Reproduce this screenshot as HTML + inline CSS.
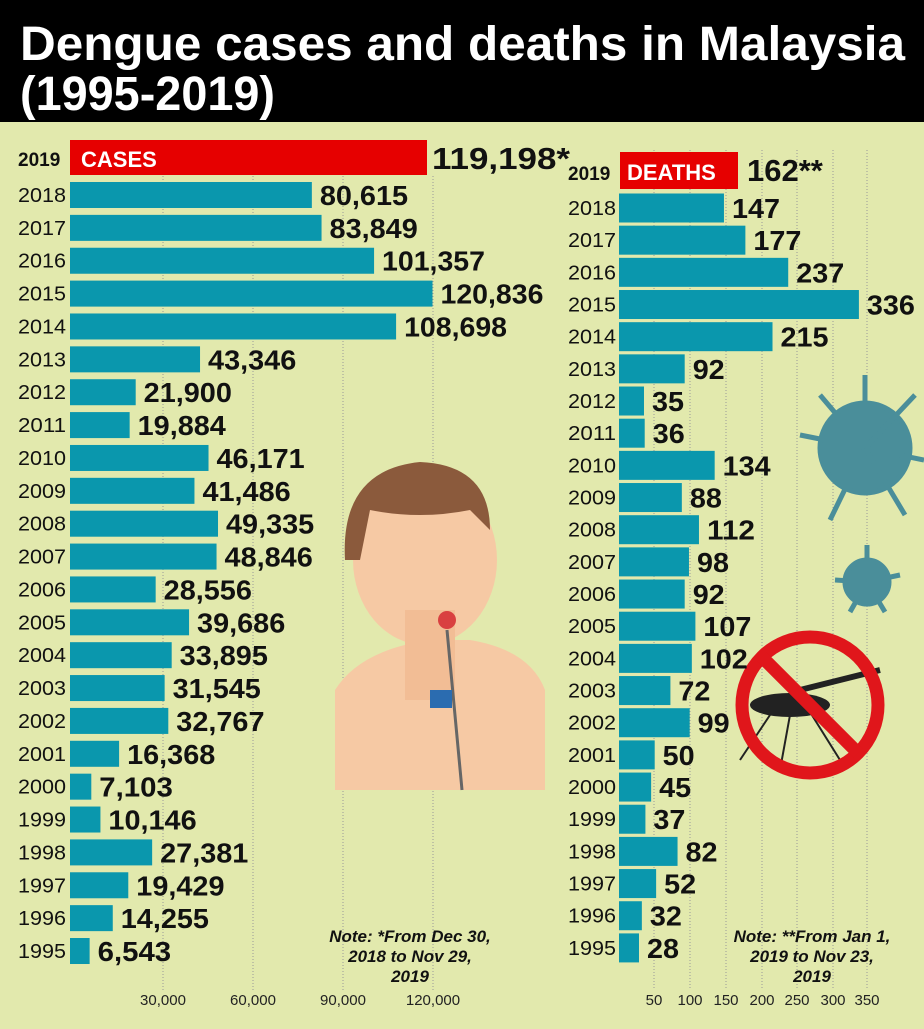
<!DOCTYPE html><html><head><style>body{margin:0;width:924px;height:1024px;overflow:hidden;background:#e2e9ad}</style></head><body>
<svg width="924" height="1024" xmlns="http://www.w3.org/2000/svg" font-family="Liberation Sans, sans-serif">
<rect width="924" height="1024" fill="#e2e9ad"/>
<rect width="924" height="122" fill="#000"/>
<text x="20" y="60" fill="#fff" font-size="48" font-weight="bold" textLength="885" lengthAdjust="spacingAndGlyphs">Dengue cases and deaths in Malaysia</text>
<text x="20" y="110" fill="#fff" font-size="48" font-weight="bold" textLength="255" lengthAdjust="spacingAndGlyphs">(1995-2019)</text>
<g stroke="#999" stroke-dasharray="1,2" stroke-width="1">
<line x1="163" y1="176" x2="163" y2="990"/><line x1="253" y1="176" x2="253" y2="990"/><line x1="343" y1="176" x2="343" y2="990"/><line x1="433" y1="176" x2="433" y2="990"/>
<line x1="654" y1="150" x2="654" y2="990"/><line x1="690" y1="150" x2="690" y2="990"/><line x1="726" y1="150" x2="726" y2="990"/><line x1="762" y1="150" x2="762" y2="990"/><line x1="797" y1="150" x2="797" y2="990"/><line x1="833" y1="150" x2="833" y2="990"/><line x1="867" y1="150" x2="867" y2="990"/>
</g>
<g font-size="15" fill="#222" text-anchor="middle">
<text x="163" y="1005">30,000</text><text x="253" y="1005">60,000</text><text x="343" y="1005">90,000</text><text x="433" y="1005">120,000</text>
<text x="654" y="1005">50</text><text x="690" y="1005">100</text><text x="726" y="1005">150</text><text x="762" y="1005">200</text><text x="797" y="1005">250</text><text x="833" y="1005">300</text><text x="867" y="1005">350</text>
</g>
<g>
<path d="M335 690 Q360 650 430 640 L470 640 Q530 650 545 690 L545 790 L335 790 Z" fill="#f6c9a4"/>
<ellipse cx="425" cy="560" rx="72" ry="85" fill="#f6c9a4"/>
<path d="M345 560 Q340 470 420 462 Q490 465 490 530 L470 510 Q420 520 370 510 L360 560 Z" fill="#8b5a3c"/>
<rect x="405" y="610" width="50" height="90" fill="#f2bd95"/>
<circle cx="447" cy="620" r="9" fill="#d94040"/>
<line x1="447" y1="630" x2="462" y2="790" stroke="#666" stroke-width="3"/>
<rect x="430" y="690" width="22" height="18" fill="#2b6cb0"/>
</g>
<g fill="#4a8e9a" stroke="#4a8e9a" stroke-width="5">
<circle cx="865" cy="448" r="45"/>
<line x1="865" y1="448" x2="865" y2="375"/><line x1="865" y1="448" x2="800" y2="435"/><line x1="865" y1="448" x2="915" y2="395"/><line x1="865" y1="448" x2="830" y2="520"/><line x1="865" y1="448" x2="905" y2="515"/><line x1="865" y1="448" x2="820" y2="395"/><line x1="865" y1="448" x2="924" y2="460"/>
<circle cx="867" cy="582" r="22"/>
<line x1="867" y1="582" x2="867" y2="545"/><line x1="867" y1="582" x2="835" y2="580"/><line x1="867" y1="582" x2="900" y2="575"/><line x1="867" y1="582" x2="850" y2="612"/><line x1="867" y1="582" x2="885" y2="612"/>
</g>
<g>
<ellipse cx="790" cy="705" rx="40" ry="12" fill="#222"/>
<path d="M800 690 L880 670" stroke="#222" stroke-width="6"/>
<path d="M770 715 L740 760 M790 715 L780 770 M810 712 L840 760" stroke="#222" stroke-width="2"/>
<circle cx="810" cy="705" r="68" fill="none" stroke="#e0161b" stroke-width="13"/>
<line x1="762" y1="657" x2="858" y2="753" stroke="#e0161b" stroke-width="13"/>
</g>
<rect x="70" y="140" width="357" height="35" fill="#e60000"/>
<text x="81" y="167" fill="#fff" font-size="22" font-weight="bold">CASES</text>
<text x="18" y="166" font-size="19" font-weight="bold" fill="#111">2019</text>
<text x="432" y="169" font-size="31" font-weight="bold" fill="#111" textLength="138" lengthAdjust="spacingAndGlyphs">119,198*</text>
<rect x="620" y="152" width="118" height="37" fill="#e60000"/>
<text x="627" y="180" fill="#fff" font-size="22" font-weight="bold">DEATHS</text>
<text x="568" y="180" font-size="19" font-weight="bold" fill="#111">2019</text>
<text x="747" y="181" font-size="31" font-weight="bold" fill="#111">162**</text>
<g font-size="17" font-style="italic" font-weight="bold" fill="#111" text-anchor="middle">
<text x="410" y="942">Note: *From Dec 30,</text><text x="410" y="962">2018 to Nov 29,</text><text x="410" y="982">2019</text>
<text x="812" y="942">Note: **From Jan 1,</text><text x="812" y="962">2019 to Nov 23,</text><text x="812" y="982">2019</text>
</g>
</svg>
<script>
const ns="http://www.w3.org/2000/svg",s=document.querySelector('svg');
function t(x,y,str,sz,w,len){const e=document.createElementNS(ns,'text');e.setAttribute('x',x);e.setAttribute('y',y);e.setAttribute('font-size',sz);if(w)e.setAttribute('font-weight','bold');if(len){e.setAttribute('textLength',len);e.setAttribute('lengthAdjust','spacingAndGlyphs');}e.setAttribute('fill','#111');e.textContent=str;s.appendChild(e);}
function r(x,y,w,h){const e=document.createElementNS(ns,'rect');e.setAttribute('x',x);e.setAttribute('y',y);e.setAttribute('width',w);e.setAttribute('height',h);e.setAttribute('fill','#0a97ad');s.appendChild(e);}
const L=[80615,83849,101357,120836,108698,43346,21900,19884,46171,41486,49335,48846,28556,39686,33895,31545,32767,16368,7103,10146,27381,19429,14255,6543];
const D=[147,177,237,336,215,92,35,36,134,88,112,98,92,107,102,72,99,50,45,37,82,52,32,28];
L.forEach((v,i)=>{const y=195+i*32.87,w=v*0.003,yr=2018-i;r(70,y-13,w,26);t(18,y+7,yr,20,0,48);const str=v.toLocaleString('en-US');t(70+w+8,y+10,str,28,1,str.length*14.7);});
D.forEach((v,i)=>{const y=208+i*32.17,w=v*0.714,yr=2018-i;r(619,y-14.5,w,29);t(568,y+7,yr,20,0,48);const str=String(v);t(619+w+8,y+10,str,28,1,str.length*16);});
</script>
</body></html>
